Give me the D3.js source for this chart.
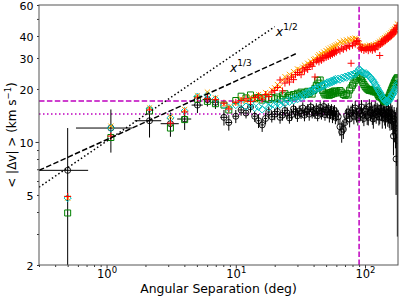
<!DOCTYPE html>
<html>
<head>
<meta charset="utf-8">
<script src="https://cdn.jsdelivr.net/npm/d3@7"></script>
<style>
  body { margin: 0; background: #fff; }
  text { font-family: "DejaVu Sans", sans-serif; fill: #000; }
</style>
</head>
<body>
<svg id="chart" width="399" height="299" viewBox="0 0 399 299"></svg>
<script>
// angular separation bins (deg)
const sep = [0.5, 1.08, 2.15, 3.12, 4.02, 5.05, 6.03, 6.96, 8.1, 8.83, 10,
  11, 12, 13, 14, 15, 16, 17, 18, 19, 20,
  21, 22, 23, 24, 25, 26, 27, 28, 29, 30,
  31, 32, 33, 34, 35, 36, 37, 38, 39, 40,
  41, 42, 43, 44, 45, 46, 47, 48, 49, 50,
  51, 52, 53, 54, 55, 56, 57, 58, 59, 60,
  62, 64, 66, 68, 70, 72, 74, 76, 78, 80,
  82, 84, 86, 88, 90, 92, 94, 96, 98, 100,
  102, 104, 106, 108, 110, 112, 114, 116, 118, 120,
  122, 124, 126, 128, 130, 132, 134, 136, 138, 140,
  142, 144, 146, 148, 150, 152, 154, 156, 158, 160,
  162, 164, 166, 168, 170, 172, 174, 176, 178];
// x error of the first bins (the rest are half a degree)
const sepErrLo = [0.3, 0.5, 0.5, 0.5, 0.5, 0.5, 0.5, 0.5, 0.5, 0.5, 0.5];
const sepErrHi = [0.22, 0.5, 0.5, 0.5, 0.5, 0.5, 0.5, 0.5, 0.5, 0.5, 0.5];

const vBlack = [6.9, 12.0, 13.2, 12.7, 13.5, 16.2, 17.4, 16.8, 13.8, 12.9, 14.0,
  15.2, 14.6, 15.8, 14.0, 13.2, 12.5, 13.6, 14.8, 13.9, 14.4,
  14.9, 13.8, 14.2, 15.1, 14.6, 13.7, 14.3, 15.4, 14.8, 14.1,
  15.0, 14.5, 15.6, 14.2, 14.9, 15.3, 14.4, 15.8, 14.7, 15.1,
  14.6, 15.4, 14.1, 15.0, 15.7, 14.5, 14.9, 15.9, 14.3, 15.2,
  14.8, 15.5, 14.2, 14.7, 15.3, 14.0, 14.6, 15.1, 13.8, 14.4,
  13.9, 12.2, 11.4, 11.8, 12.9, 14.1, 14.8, 13.5, 14.6, 15.2,
  14.0, 15.6, 14.3, 13.7, 15.0, 14.5, 15.8, 14.2, 13.6, 14.9,
  15.4, 14.1, 13.8, 15.9, 14.6, 15.2, 14.0, 13.5, 14.7, 15.5,
  14.3, 15.0, 14.8, 13.9, 14.4, 15.6, 14.9, 13.7, 14.5, 15.1,
  14.2, 13.6, 14.8, 15.3, 13.9, 14.6, 14.0, 13.4, 14.7, 13.8,
  14.3, 13.1, 10.8, 13.5, 12.6, 12.0, 8.0, 11.5, 10.2];
const vBlackErr = [5.1, 3.3, 2.6, 2.0, 1.8, 1.6, 1.5, 1.4, 1.4, 1.3, 1.2,
  1.1, 1.0, 1.1, 1.0, 1.2, 1.1, 1.0, 1.1, 1.0, 1.1,
  1.0, 1.1, 1.0, 1.2, 1.1, 1.0, 1.1, 1.0, 1.2, 1.1,
  1.1, 1.0, 1.2, 1.1, 1.0, 1.1, 1.2, 1.0, 1.1, 1.2,
  1.1, 1.2, 1.0, 1.1, 1.2, 1.1, 1.0, 1.2, 1.1, 1.2,
  1.2, 1.1, 1.3, 1.2, 1.1, 1.2, 1.3, 1.1, 1.2, 1.3,
  1.3, 1.4, 1.5, 1.4, 1.3, 1.4, 1.3, 1.4, 1.5, 1.3,
  1.4, 1.5, 1.4, 1.3, 1.5, 1.4, 1.5, 1.4, 1.3, 1.5,
  1.5, 1.6, 1.4, 1.6, 1.5, 1.7, 1.5, 1.6, 1.7, 1.5,
  1.6, 1.7, 1.6, 1.5, 1.8, 1.6, 1.7, 1.8, 1.6, 1.7,
  1.8, 1.7, 1.9, 1.8, 1.7, 1.9, 2.0, 1.8, 2.0, 2.1,
  1.9, 2.2, 2.4, 2.3, 2.6, 2.8, 3.0, 4.2, 7.3];
const vRed = [4.9, 10.8, 15.2, 12.8, 14.8, 17.8, 17.6, 17.4, 16.6, 15.4, 16.8,
  17.2, 17.6, 17.0, 17.9, 18.3, 17.5, 18.6, 18.1, 19.2, 19.6,
  20.4, 22.5, 19.5, 21.6, 22.8, 21.9, 23.4, 22.6, 24.1, 24.8,
  24.8, 24.1, 26.0, 25.3, 26.5, 25.8, 27.0, 27.6, 26.9, 28.2,
  23.4, 28.8, 29.3, 28.5, 29.9, 29.1, 30.3, 29.7, 30.9, 30.2,
  31.2, 30.6, 31.7, 31.0, 32.1, 31.5, 32.6, 31.9, 33.1, 32.4,
  33.5, 32.9, 34.1, 33.6, 34.7, 34.2, 35.3, 34.8, 28.0, 35.4,
  36.5, 36.0, 37.2, 37.6, 36.0, 34.2, 33.6, 34.4, 33.1, 34.0,
  33.5, 34.3, 33.0, 34.8, 33.7, 34.5, 33.2, 35.0, 34.1, 33.6,
  35.3, 34.7, 36.0, 35.2, 31.0, 35.8, 37.2, 36.4, 37.9, 37.0,
  38.4, 37.6, 39.0, 38.2, 39.6, 38.8, 40.2, 39.4, 41.0, 40.1,
  41.8, 40.9, 42.6, 41.5, 43.4, 42.3, 44.5, 43.6, 46.0];
const vOrange = [4.8, 12.3, 15.6, 13.9, 15.3, 18.3, 19.2, 17.8, 16.4, 15.8, 16.6,
  17.6, 17.1, 18.0, 17.4, 18.6, 18.0, 19.1, 18.5, 19.8, 20.3,
  21.2, 20.6, 22.4, 23.5, 22.7, 24.2, 23.6, 25.1, 24.5, 26.0,
  25.8, 25.0, 26.6, 27.3, 26.5, 28.0, 27.5, 28.7, 28.1, 29.4,
  29.8, 29.1, 30.6, 31.3, 30.4, 31.8, 31.2, 32.4, 31.7, 33.0,
  32.6, 33.7, 33.0, 34.2, 33.5, 34.7, 34.0, 35.2, 34.5, 35.6,
  36.0, 37.1, 36.5, 37.6, 36.9, 38.0, 37.3, 38.4, 37.7, 38.7,
  38.1, 38.9, 38.3, 37.5, 36.2, 35.0, 34.4, 35.1, 34.0, 34.8,
  34.2, 35.0, 33.8, 35.5, 34.4, 35.2, 34.0, 35.7, 34.9, 34.3,
  36.0, 35.4, 36.7, 35.9, 37.3, 36.5, 37.9, 37.1, 38.6, 37.7,
  39.1, 38.3, 39.7, 38.9, 40.3, 39.5, 41.0, 40.1, 41.7, 40.8,
  42.5, 41.6, 43.3, 42.2, 44.1, 43.0, 45.2, 44.3, 46.8];
const vCyan = [4.8, 12.0, 15.4, 13.7, 15.0, 18.1, 18.5, 17.5, 16.2, 15.6, 16.2,
  16.4, 15.9, 16.6, 15.6, 15.8, 15.3, 16.1, 15.7, 16.4, 16.2,
  16.7, 16.3, 17.0, 16.6, 17.3, 16.9, 17.6, 17.2, 17.9, 17.5,
  18.2, 17.8, 18.6, 18.3, 19.0, 18.7, 19.4, 19.1, 19.8, 19.5,
  20.1, 19.8, 20.5, 20.2, 20.8, 20.5, 21.1, 20.8, 21.5, 21.2,
  21.8, 21.4, 22.0, 21.7, 22.3, 21.9, 22.5, 22.2, 22.8, 22.4,
  22.9, 22.6, 23.2, 23.0, 23.5, 23.2, 23.8, 23.5, 24.1, 23.9,
  24.4, 24.2, 24.8, 25.3, 26.0, 25.4, 25.0, 24.9, 24.6, 24.3,
  24.6, 24.1, 24.0, 23.5, 23.3, 22.8, 22.6, 22.0, 21.8, 21.1,
  20.9, 20.3, 20.0, 19.5, 19.2, 18.7, 18.5, 17.9, 17.8, 17.4,
  17.4, 17.0, 17.1, 16.8, 17.1, 17.0, 17.4, 17.4, 17.9, 18.0,
  18.5, 18.6, 19.1, 19.2, 19.8, 20.0, 20.6, 20.8, 21.5];
const vGreen = [3.95, 10.6, 15.0, 12.0, 13.4, 17.5, 17.0, 16.5, 16.2, 15.2, 17.2,
  18.2, 17.8, 18.5, 17.6, 17.9, 17.3, 17.7, 17.4, 17.9, 17.6,
  18.0, 17.5, 18.3, 18.8, 17.9, 18.4, 18.0, 18.6, 18.2, 18.9,
  18.5, 19.2, 18.7, 19.0, 18.6, 19.4, 18.9, 19.3, 18.7, 19.6,
  20.2, 21.0, 22.4, 21.6, 22.5, 20.8, 19.6, 19.0, 18.5, 18.7,
  18.5, 18.9, 18.4, 19.1, 18.6, 19.3, 18.8, 19.5, 19.0, 19.4,
  19.0, 19.6, 19.2, 18.6, 18.4, 18.8, 18.5, 19.7, 20.3, 21.0,
  21.6, 22.4, 23.0, 23.5, 23.8, 23.2, 22.5, 21.8, 21.2, 20.7,
  20.3, 20.0, 19.8, 19.6, 19.9, 19.5, 19.7, 19.3, 19.6, 19.2,
  19.5, 19.0, 18.6, 18.2, 18.0, 18.3, 17.9, 17.6, 17.4, 17.2,
  17.0, 16.9, 17.1, 17.3, 17.6, 17.9, 18.3, 18.8, 19.2, 19.7,
  20.1, 20.6, 21.0, 21.5, 21.9, 22.3, 22.6, 22.9, 23.2];

const refSep = 90;        // vertical magenta dashed line
const refDashed = 17.1;   // horizontal magenta dashed line
const refDotted = 14.4;   // horizontal magenta dotted line
const powerLaws = [
  { exponent: 1 / 2, amplitude: 10.1, maxSep: 20, label: "1/2" },
  { exponent: 1 / 3, amplitude: 10.3, maxSep: 30, label: "1/3" },
];
const yTickValues = [2, 5, 10, 20, 30, 40, 60];
const xTickValues = [1, 10, 100];

const svgContainer = d3.select("#chart");
const width = 399, height = 299;
const margin = { top: 5, right: 1, bottom: 34, left: 39 };

const xScale = d3.scaleLog().domain([0.3, 180]).range([margin.left, width - margin.right]);
const yScale = d3.scaleLog().domain([2, 60]).range([height - margin.bottom, margin.top]);
const plotW = xScale.range()[1] - xScale.range()[0];
const plotH = yScale.range()[0] - yScale.range()[1];

svgContainer.append("defs").append("clipPath").attr("id", "plot-clip")
  .append("rect")
  .attr("x", margin.left).attr("y", margin.top)
  .attr("width", plotW).attr("height", plotH);

const plot = svgContainer.append("g").attr("clip-path", "url(#plot-clip)");

// magenta reference lines
const refLines = plot.append("g")
  .attr("stroke", "#bf00bf").attr("stroke-width", 1.5).attr("fill", "none");
refLines.append("line")
  .attr("x1", xScale(0.3)).attr("x2", xScale(180))
  .attr("y1", yScale(refDashed)).attr("y2", yScale(refDashed))
  .attr("stroke-dasharray", "5.5,2.4");
refLines.append("line")
  .attr("x1", xScale(0.3)).attr("x2", xScale(180))
  .attr("y1", yScale(refDotted)).attr("y2", yScale(refDotted))
  .attr("stroke-dasharray", "1.5,2.5");
refLines.append("line")
  .attr("x1", xScale(refSep)).attr("x2", xScale(refSep))
  .attr("y1", yScale(2)).attr("y2", yScale(60))
  .attr("stroke-dasharray", "5.5,2.4");

const points = sep.map((s, i) => ({
  sep: s,
  lo: i < sepErrLo.length ? sepErrLo[i] : 0.5,
  hi: i < sepErrHi.length ? sepErrHi[i] : 0.5,
  black: vBlack[i], blackErr: vBlackErr[i],
  red: vRed[i], orange: vOrange[i], cyan: vCyan[i], green: vGreen[i],
}));

// black points with error bars
const errGroup = plot.append("g").attr("stroke", "#000").attr("stroke-width", 1);
errGroup.selectAll(".xerr").data(points).enter().append("line")
  .attr("x1", d => xScale(d.sep - d.lo)).attr("x2", d => xScale(d.sep + d.hi))
  .attr("y1", d => yScale(d.black)).attr("y2", d => yScale(d.black));
errGroup.selectAll(".yerr").data(points).enter().append("line")
  .attr("x1", d => xScale(d.sep)).attr("x2", d => xScale(d.sep))
  .attr("y1", d => yScale(Math.max(d.black - d.blackErr, 1)))
  .attr("y2", d => yScale(d.black + d.blackErr));
plot.append("g").selectAll("circle").data(points).enter().append("circle")
  .attr("cx", d => xScale(d.sep)).attr("cy", d => yScale(d.black))
  .attr("r", 3).attr("fill", "none").attr("stroke", "#000").attr("stroke-width", 0.9);

const markerShapes = {
  square: s => `M${-s},${-s}H${s}V${s}H${-s}Z`,
  diamond: s => `M0,${-s}L${s},0L0,${s}L${-s},0Z`,
  plus: s => `M${-s},0H${s}M0,${-s}V${s}`,
  cross: s => `M${-s},${-s}L${s},${s}M${-s},${s}L${s},${-s}`,
};

function drawMarkers(key, shape, size, color) {
  plot.append("g").selectAll("path").data(points).enter().append("path")
    .attr("transform", d => `translate(${xScale(d.sep)},${yScale(d[key])})`)
    .attr("d", markerShapes[shape](size))
    .attr("fill", "none").attr("stroke", color).attr("stroke-width", 1);
}

drawMarkers("green", "square", 3, "#008000");
drawMarkers("cyan", "diamond", 3.6, "#00bfbf");
drawMarkers("orange", "cross", 2.6, "#ffa500");
drawMarkers("red", "plus", 3.5, "#ff0000");

// power-law guides
const powerLine = d3.line().x(d => xScale(d[0])).y(d => yScale(d[1]));
const lawGroup = svgContainer.append("g").attr("clip-path", "url(#plot-clip)");
powerLaws.forEach((law, i) => {
  const ends = [0.3, law.maxSep].map(s => [s, law.amplitude * Math.pow(s, law.exponent)]);
  lawGroup.append("path")
    .attr("d", powerLine(ends))
    .attr("fill", "none").attr("stroke", "#000").attr("stroke-width", 1.5)
    .attr("stroke-dasharray", i === 0 ? "1.5,2.4" : "5.5,2.4");
});
const lawLabels = [[20.4, 40], [9, 25]];
powerLaws.forEach((law, i) => {
  const t = svgContainer.append("text")
    .attr("x", xScale(lawLabels[i][0])).attr("y", yScale(lawLabels[i][1]))
    .attr("font-size", 12.5);
  t.append("tspan").attr("font-style", "italic").text("x");
  t.append("tspan").attr("dy", -6).attr("font-size", 9).text(law.label);
});

// axes
const xMinor = [];
[0.1, 1, 10, 100].forEach(dec => {
  for (let k = 2; k <= 9; k++) {
    const v = k * dec;
    if (v >= 0.3 && v <= 180) xMinor.push(v);
  }
});
const yMinor = [3, 4, 6, 7, 8, 9, 50].concat(yTickValues.filter(v => v !== 10));

const axisY0 = yScale.range()[0];
svgContainer.append("g").attr("transform", `translate(0,${axisY0})`)
  .call(d3.axisBottom(xScale).tickValues(xMinor).tickSize(2).tickFormat(""))
  .call(g => g.select(".domain").remove());
const xMajor = svgContainer.append("g").attr("transform", `translate(0,${axisY0})`)
  .call(d3.axisBottom(xScale).tickValues(xTickValues).tickSize(3.5).tickFormat(""))
  .call(g => g.select(".domain").remove());
xMajor.selectAll(".tick text")
  .attr("y", 13).attr("dy", 0).attr("font-size", 11.5)
  .each(function (d) {
    const t = d3.select(this);
    t.append("tspan").text("10");
    t.append("tspan").attr("dy", -5).attr("font-size", 8.5).text(Math.round(Math.log10(d)));
  });

svgContainer.append("g").attr("transform", `translate(${margin.left},0)`)
  .call(d3.axisLeft(yScale).tickValues(yMinor).tickSize(2).tickFormat(""))
  .call(g => g.select(".domain").remove());
const yAxis = svgContainer.append("g").attr("transform", `translate(${margin.left},0)`)
  .call(d3.axisLeft(yScale).tickValues(yTickValues).tickSize(0).tickPadding(5.5)
    .tickFormat(d3.format("d")))
  .call(g => g.select(".domain").remove());
yAxis.selectAll(".tick text").attr("font-size", 11).attr("dy", "0.42em");
svgContainer.append("g").attr("transform", `translate(${margin.left},0)`)
  .call(d3.axisLeft(yScale).tickValues([10]).tickSize(3.5).tickFormat(""))
  .call(g => g.select(".domain").remove());
svgContainer.selectAll(".tick line").attr("stroke", "#000").attr("stroke-width", 0.8);

// frame
svgContainer.append("rect")
  .attr("x", margin.left).attr("y", margin.top)
  .attr("width", plotW).attr("height", plotH)
  .attr("fill", "none").attr("stroke", "#555").attr("stroke-width", 1);

svgContainer.append("text")
  .attr("x", (xScale.range()[0] + xScale.range()[1]) / 2).attr("y", 292.5)
  .attr("text-anchor", "middle").attr("font-size", 12.4)
  .text("Angular Separation (deg)");

const yLabel = svgContainer.append("text")
  .attr("transform", `translate(16,${(yScale.range()[0] + yScale.range()[1]) / 2}) rotate(-90)`)
  .attr("text-anchor", "middle").attr("font-size", 12);
yLabel.append("tspan").text("< |Δv| > (km s");
yLabel.append("tspan").attr("dy", -5).attr("font-size", 8.5).text("−1");
yLabel.append("tspan").attr("dy", 5).text(")");
</script>
</body>
</html>
